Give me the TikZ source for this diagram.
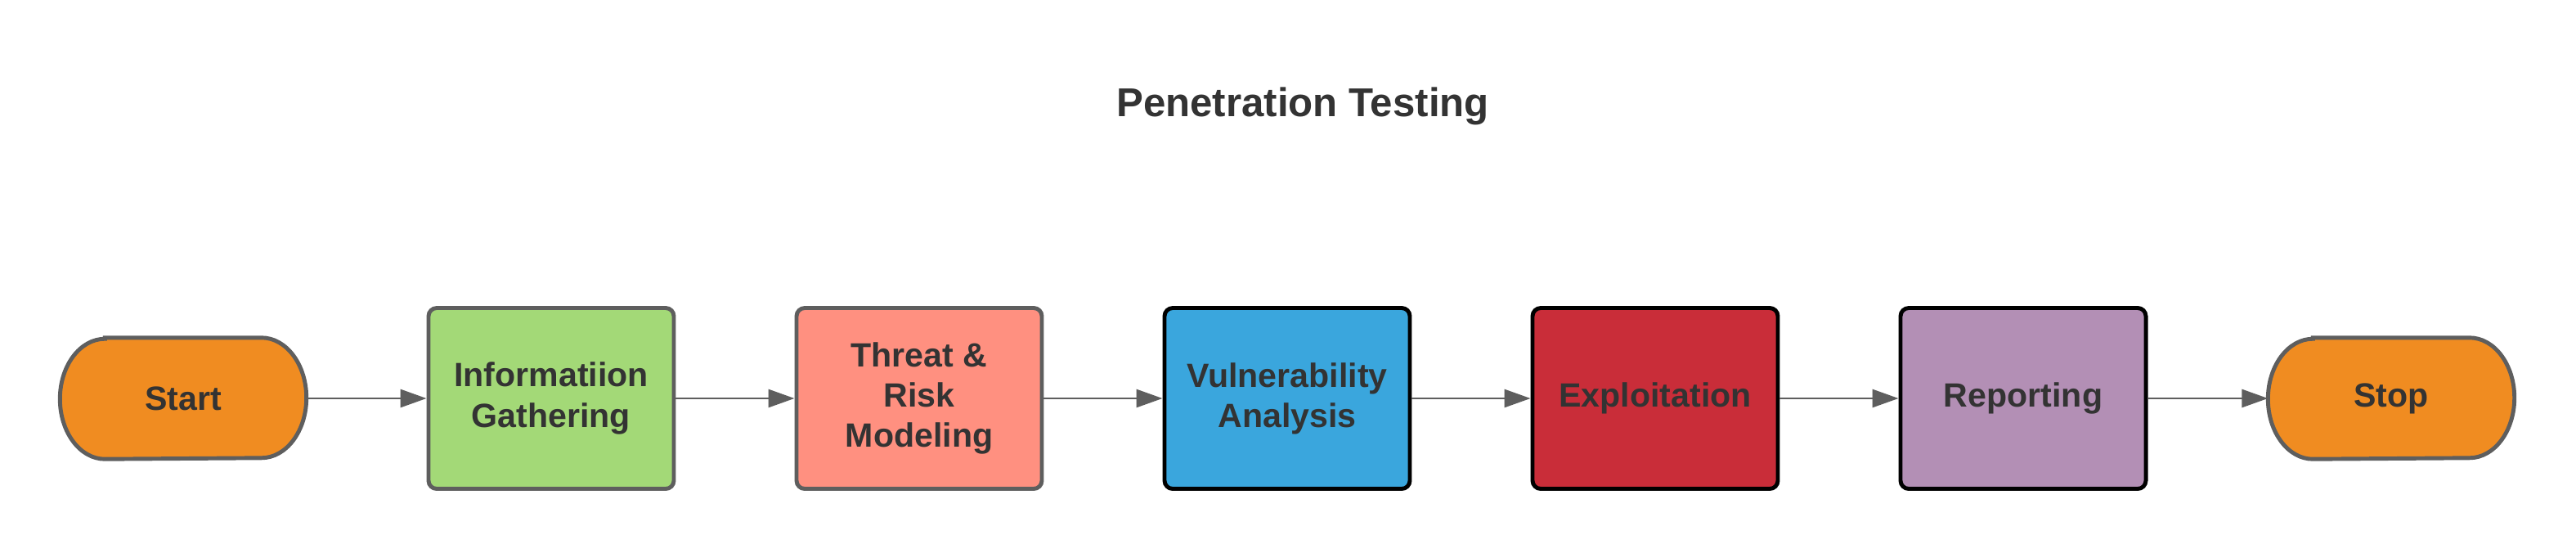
\documentclass[tikz,border=0pt]{standalone}
\usepackage{fontspec}
\setmainfont{Liberation Sans}
\usetikzlibrary{arrows.meta,backgrounds}
\definecolor{txt}{HTML}{333333}
\definecolor{edge}{HTML}{5E5E5E}
\definecolor{corange}{HTML}{F08C21}
\definecolor{cgreen}{HTML}{A3D977}
\definecolor{csalmon}{HTML}{FF9080}
\definecolor{cblue}{HTML}{3AA6DD}
\definecolor{cred}{HTML}{C92D39}
\definecolor{cpurple}{HTML}{B38FB5}
\tikzset{
  stepbox/.style={draw, line width=1.4pt, rounded corners=0.1cm, minimum width=3.0cm, minimum height=2.21cm, align=center, text=txt, font=\fontsize{11.7}{14}\selectfont\bfseries, inner sep=0pt},
  termnode/.style={minimum width=3.0cm, minimum height=1.47cm, align=center, text=txt, font=\fontsize{11.7}{14}\selectfont\bfseries, inner sep=0pt},
  termshape/.style={draw=edge, line width=1.4pt},
  flow/.style={draw=edge, line width=0.8pt, -{Triangle[length=0.32cm,width=0.22cm]}},
  titlestyle/.style={text=txt, font=\fontsize{14}{17}\selectfont\bfseries}
}
\newcommand{\terminalshape}[2]{%
  \path[termshape, fill=#2] ([xshift=0.55cm]#1.north west) -- ([xshift=-0.55cm]#1.north east)
    arc[start angle=90, end angle=-90, x radius=0.55cm, y radius=0.735cm]
    -- ([xshift=0.55cm]#1.south west)
    arc[start angle=270, end angle=90, x radius=0.55cm, y radius=0.735cm] -- cycle;}
\begin{document}
\begin{tikzpicture}
\useasboundingbox (0,0) rectangle (31.5,-6.75);
\node[titlestyle] (title) at (15.93,-1.3) {Penetration Testing};
\node[termnode] (start) at (2.24,-4.87) {Start};
\node[stepbox, draw=edge, fill=cgreen] (info) at (6.74,-4.87) {Informatiion\\Gathering};
\node[stepbox, draw=edge, fill=csalmon] (threat) at (11.24,-4.87) {Threat \&\\Risk\\Modeling};
\node[stepbox, draw=black, fill=cblue] (vuln) at (15.74,-4.87) {Vulnerability\\Analysis};
\node[stepbox, draw=black, fill=cred] (exploit) at (20.24,-4.87) {Exploitation};
\node[stepbox, draw=black, fill=cpurple] (report) at (24.74,-4.87) {Reporting};
\node[termnode] (stop) at (29.24,-4.87) {Stop};
\begin{scope}[on background layer]
\fill[white] (0,0) rectangle (31.5,-6.75);
\terminalshape{start}{corange}
\terminalshape{stop}{corange}
\end{scope}
\draw[flow] (start.east) -- (info.west);
\draw[flow] (info.east) -- (threat.west);
\draw[flow] (threat.east) -- (vuln.west);
\draw[flow] (vuln.east) -- (exploit.west);
\draw[flow] (exploit.east) -- (report.west);
\draw[flow] (report.east) -- (stop.west);
\end{tikzpicture}
\end{document}
